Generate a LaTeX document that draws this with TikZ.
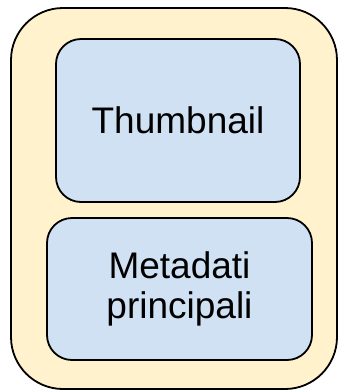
\documentclass[tikz,border=0pt]{standalone}
\usepackage{fontspec}
\setmainfont{Liberation Sans}
\definecolor{cardyellow}{HTML}{FFF2CC}
\definecolor{boxblue}{HTML}{D0E1F3}

\begin{document}
\begin{tikzpicture}[x=1pt,y=-1pt,
  every node/.style={font=\fontsize{37}{40}\selectfont},
  card/.style={draw=black,line width=1.8pt,fill=cardyellow,rounded corners=52pt,inner sep=0pt},
  part/.style={draw=black,line width=1.8pt,fill=boxblue,rounded corners=25pt,align=center,inner sep=0pt}]
 \useasboundingbox (0,0) rectangle (339,392);
 \node[card,minimum width=326pt,minimum height=381pt] (card) at (174,198.5) {};
 \node[part,minimum width=244pt,minimum height=163pt] (thumb) at (178,120.5) {Thumbnail};
 \node[part,minimum width=265pt,minimum height=142pt] (meta) at (179.5,289) {Metadati\\principali};
\end{tikzpicture}
\end{document}
